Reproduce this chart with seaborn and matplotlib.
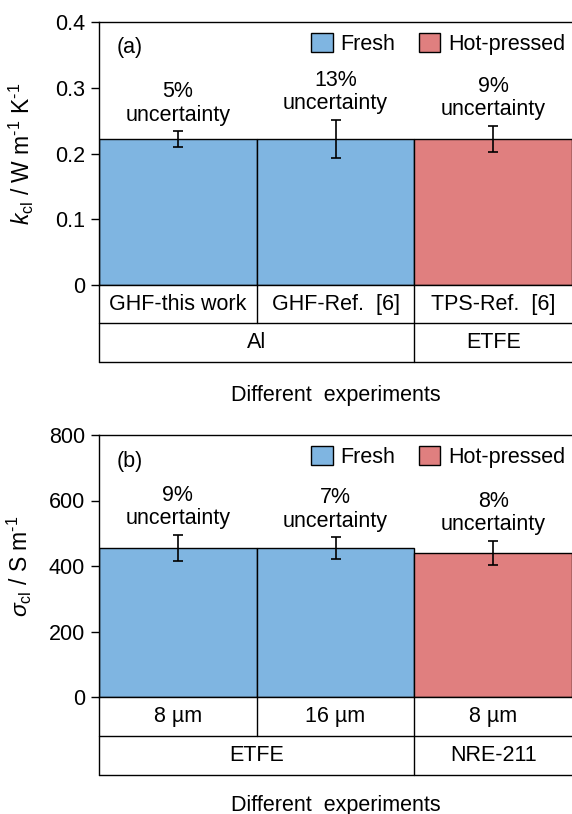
import matplotlib
matplotlib.use("Agg")
import matplotlib.pyplot as plt
import seaborn as sns
import pandas as pd
from matplotlib.patches import Patch

sns.set_theme(style="white")
plt.rcParams['font.family'] = ['Liberation Sans', 'DejaVu Sans']
plt.rcParams['mathtext.fontset'] = 'custom'
plt.rcParams['mathtext.rm'] = 'Liberation Sans'
plt.rcParams['mathtext.it'] = 'Liberation Sans:italic'
plt.rcParams['mathtext.bf'] = 'Liberation Sans:bold'
for k in ['text.color', 'axes.labelcolor', 'xtick.color', 'ytick.color']:
    plt.rcParams[k] = 'black'

FS = 15.5
BLUE = '#7FB5E1'
RED = '#E07F7F'

# ---- Data (panel a) ----
a_labels = ['GHF-this work', 'GHF-Ref.  [6]', 'TPS-Ref.  [6]']
a_groups = ['Al', 'ETFE']
a_values = [0.222, 0.222, 0.222]
a_errors = [0.012, 0.029, 0.020]
a_cond = ['Fresh', 'Fresh', 'Hot-pressed']
a_unc = ['5%', '13%', '9%']

# ---- Data (panel b) ----
b_labels = ['8 µm', '16 µm', '8 µm ']
b_groups = ['ETFE', 'NRE-211']
b_values = [455, 455, 440]
b_errors = [41, 33, 37]
b_cond = ['Fresh', 'Fresh', 'Hot-pressed']
b_unc = ['9%', '7%', '8%']

palette = {'Fresh': BLUE, 'Hot-pressed': RED}

W, H = 572, 814
fig = plt.figure(figsize=(W / 100, H / 100), dpi=100)

def fx(px):
    return px / W

def fy(py):
    return 1 - py / H

left = 99
right = 572


def panel(top, zero, tbl_bottom, labels, groups, values, errors, cond, unc,
          ymax, yticks, yticklabels, ylabel, tag, ylab_x, xlab_y):
    ax = fig.add_axes([fx(left), fy(zero), fx(right - left), (zero - top) / H])
    df = pd.DataFrame({'label': labels, 'value': values, 'cond': cond})
    sns.barplot(data=df, x='label', y='value', hue='cond', palette=palette,
                dodge=False, width=1.0, edgecolor='black', linewidth=1.0,
                legend=False, ax=ax, saturation=1)
    ax.errorbar(range(len(values)), values, yerr=errors, fmt='none',
                ecolor='black', elinewidth=1.2, capsize=3.6, capthick=1.2)
    for i, (v, e, u) in enumerate(zip(values, errors, unc)):
        ax.annotate(f'{u}\nuncertainty', xy=(i, v + e), xytext=(0, 4),
                    textcoords='offset points', ha='center', va='bottom',
                    fontsize=FS, linespacing=1.15)
    ax.set_xlim(-0.5, len(values) - 0.5)
    ax.set_ylim(0, ymax)
    ax.set_yticks(yticks)
    ax.set_yticklabels(yticklabels, fontsize=FS)
    ax.set_xticks([])
    ax.set_xlabel('')
    ax.set_ylabel(ylabel, fontsize=16.5)
    ax.yaxis.set_label_coords(ylab_x, 0.5)
    ax.tick_params(axis='y', which='both', left=True, length=6, width=1.0,
                   direction='out', pad=4, colors='black')
    for s in ['top', 'left', 'bottom']:
        ax.spines[s].set_visible(True)
        ax.spines[s].set_color('black')
        ax.spines[s].set_linewidth(1.0)
    ax.spines['right'].set_visible(False)
    ax.text(0.038, (zero - (top + 26)) / (zero - top), tag, transform=ax.transAxes,
            fontsize=FS, ha='left', va='center')
    handles = [Patch(facecolor=BLUE, edgecolor='black', linewidth=1.0, label='Fresh'),
               Patch(facecolor=RED, edgecolor='black', linewidth=1.0, label='Hot-pressed')]
    ax.legend(handles=handles, loc='upper right', ncol=2, frameon=False,
              fontsize=FS, handlelength=1.0, handleheight=1.0,
              handletextpad=0.35, columnspacing=1.1, borderpad=0,
              borderaxespad=0,
              bbox_to_anchor=(0.985, (zero - (top + 11)) / (zero - top)))

    # table below
    tax = fig.add_axes([fx(left), fy(tbl_bottom), fx(right - left), (tbl_bottom - zero) / H])
    tax.set_xlim(-0.5, len(values) - 0.5)
    tax.set_ylim(0, 2)
    tax.axis('off')
    kw = dict(color='black', linewidth=1.0, clip_on=False)
    tax.plot([-0.5, len(values) - 0.5], [1, 1], **kw)
    tax.plot([-0.5, len(values) - 0.5], [0, 0], **kw)
    tax.plot([-0.5, -0.5], [0, 2], **kw)
    tax.plot([0.5, 0.5], [1, 2], **kw)
    tax.plot([1.5, 1.5], [0, 2], **kw)
    for i, lab in enumerate(labels):
        tax.text(i, 1.5, lab.strip(), ha='center', va='center', fontsize=FS)
    tax.text(0.5, 0.5, groups[0], ha='center', va='center', fontsize=FS)
    tax.text(2.0, 0.5, groups[1], ha='center', va='center', fontsize=FS)
    fig.text(fx((left + right) / 2), fy(xlab_y), 'Different  experiments',
             ha='center', va='center', fontsize=FS)
    return ax


panel(22, 285, 362, a_labels, a_groups, a_values, a_errors, a_cond, a_unc,
      0.4, [0, 0.1, 0.2, 0.3, 0.4], ['0', '0.1', '0.2', '0.3', '0.4'],
      r'$k_\mathrm{cl}$ / W m$^{\text{-}1}$ K$^{\text{-}1}$', '(a)', -0.134, 395)

panel(435, 697, 775, b_labels, b_groups, b_values, b_errors, b_cond, b_unc,
      800, [0, 200, 400, 600, 800], ['0', '200', '400', '600', '800'],
      r'$\sigma_\mathrm{cl}$ / S m$^{\text{-}1}$', '(b)', -0.138, 805)

fig.savefig('out.png', dpi=100)
